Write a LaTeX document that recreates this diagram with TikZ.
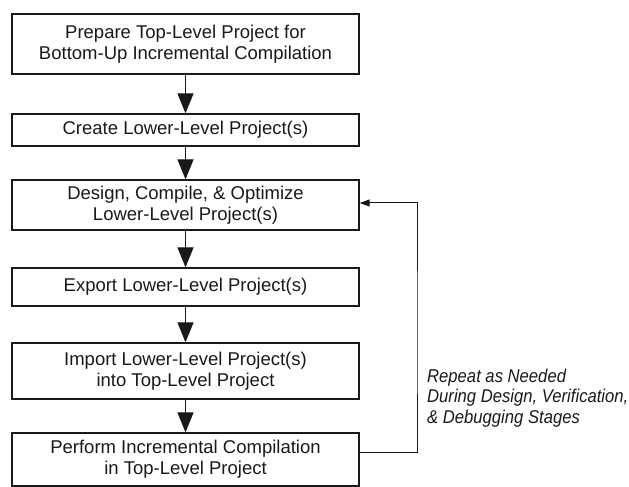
\documentclass[tikz,border=0pt]{standalone}
\usepackage{fontspec}
\setmainfont{Liberation Sans}
\newfontfamily\condit[FakeStretch=0.9, ItalicFont={Liberation Sans Italic}]{Liberation Sans}
\usetikzlibrary{arrows.meta}
\tikzset{
  stepbox/.style={draw=black!90, line width=1.25pt, minimum width=347pt, inner sep=0pt, align=center, text=black!90,
    font=\fontsize{18.5}{20.8}\selectfont},
  flowarr/.style={draw=black!90, line width=1.25pt, -{Triangle[width=16pt,length=20pt]}},
  looparr/.style={draw=black!90, line width=1pt, -{Triangle[width=7pt,length=10pt]}},
  note/.style={align=left, inner sep=0pt, text=black!90, font=\condit\itshape\fontsize{18.5}{20.5}\selectfont}
}
\begin{document}
\begin{tikzpicture}[x=1pt,y=1pt]
\useasboundingbox (0,0) rectangle (629,487);
\node[stepbox, minimum height=60pt] (b1) at (185.5,443) {Prepare Top-Level Project for\\Bottom-Up Incremental Compilation};
\node[stepbox, minimum height=32pt] (b2) at (185.5,357) {Create Lower-Level Project(s)};
\node[stepbox, minimum height=50pt] (b3) at (185.5,282) {Design, Compile, \& Optimize\\Lower-Level Project(s)};
\node[stepbox, minimum height=38pt] (b4) at (185.5,200) {Export Lower-Level Project(s)};
\node[stepbox, minimum height=56pt] (b5) at (185.5,116) {Import Lower-Level Project(s)\\into Top-Level Project};
\node[stepbox, minimum height=53pt] (b6) at (185.5,27.5) {Perform Incremental Compilation\\in Top-Level Project};
\draw[flowarr] (b1) -- (b2);
\draw[flowarr] (b2) -- (b3);
\draw[flowarr] (b3) -- (b4);
\draw[flowarr] (b4) -- (b5);
\draw[flowarr] (b5) -- (b6);
\coordinate (turn) at (417,150);
\draw[looparr] ([yshift=6.5pt]b6.east) -| (turn) |- ([yshift=2pt]b3.east);
\node[note, anchor=west] (lbl) at (427,89) {Repeat as Needed\\During Design, Verification,\\\& Debugging Stages};
\end{tikzpicture}
\end{document}
